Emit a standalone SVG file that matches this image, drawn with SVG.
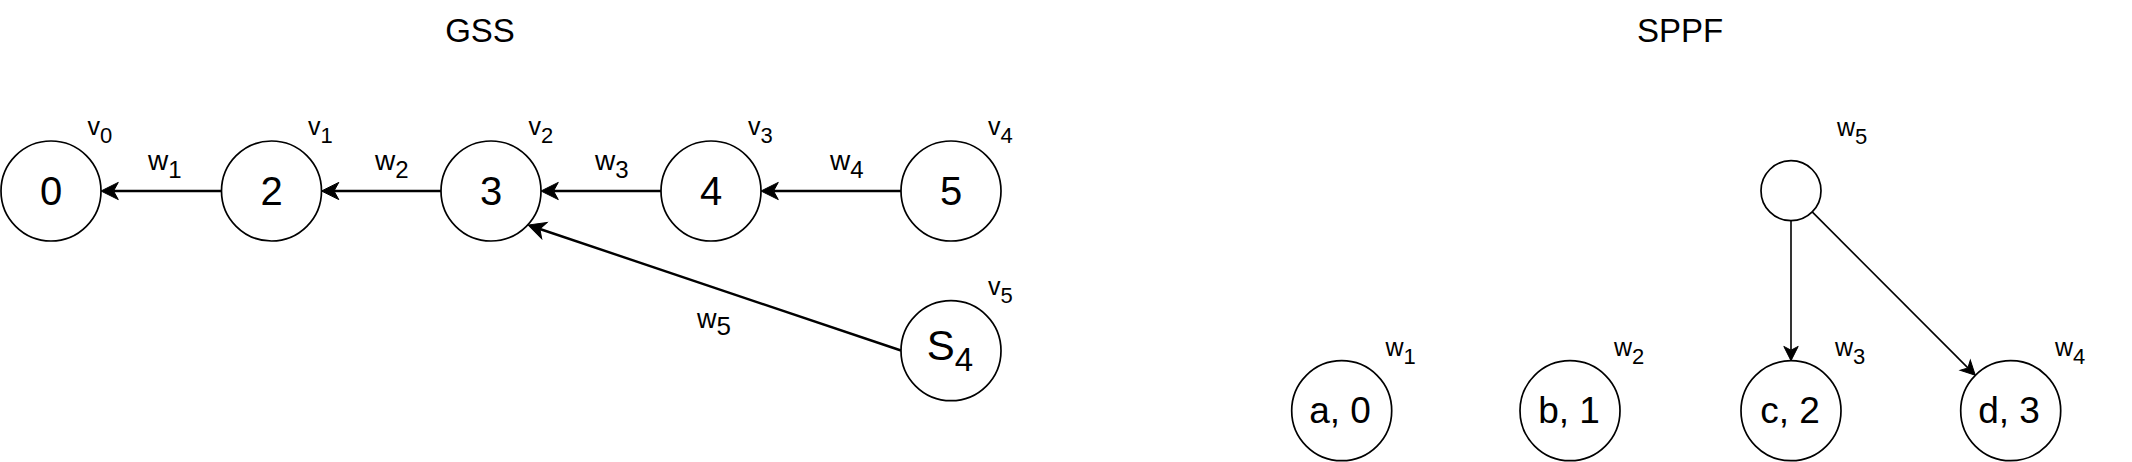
<svg xmlns="http://www.w3.org/2000/svg" width="2132" height="462" viewBox="0 0 2132 462">
<style>
text{font-family:"Liberation Sans",Arial,Helvetica,sans-serif;fill:#000}
.title{font-size:33px;text-anchor:middle}
.node{fill:#fff;stroke:#000;stroke-width:1.7}
.gnum{font-size:40px;text-anchor:middle}
.snum{font-size:37px;text-anchor:middle}
.elab{font-size:28px}
.elab .sub{font-size:24px}
.clab{font-size:25px}
.clab .sub{font-size:22px}
.gedge{stroke:#000;stroke-width:2.4;fill:none}
.sedge{stroke:#000;stroke-width:1.6;fill:none}
</style>
<defs>
<marker id="arrG" markerUnits="userSpaceOnUse" viewBox="-6 -10 20 20" refX="0" refY="0" markerWidth="20" markerHeight="20" orient="auto">
<path d="M12.5,0 L-4.8,-8.6 L0,0 L-4.8,8.6 Z" fill="#000" stroke="#000" stroke-width="1" stroke-linejoin="miter"/>
</marker>
<marker id="arrS" markerUnits="userSpaceOnUse" viewBox="-6 -10 20 20" refX="0" refY="0" markerWidth="20" markerHeight="20" orient="auto">
<path d="M10.5,0 L-3.8,-7.2 L0,0 L-3.8,7.2 Z" fill="#000" stroke="#000" stroke-width="1"/>
</marker>
</defs>
<rect width="2132" height="462" fill="#fff"/>
<text class="title" x="480" y="41.7">GSS</text>
<text class="title" x="1680" y="41.7">SPPF</text>

<g id="connectors">
<line class="gedge" x1="221.5" y1="191" x2="113.5" y2="191" marker-end="url(#arrG)"/>
<line class="gedge" x1="441" y1="191" x2="334" y2="191" marker-end="url(#arrG)"/>
<line class="gedge" x1="661" y1="191" x2="553.5" y2="191" marker-end="url(#arrG)"/>
<line class="gedge" x1="901" y1="191" x2="773.5" y2="191" marker-end="url(#arrG)"/>
<line class="gedge" x1="901" y1="350.5" x2="539.9" y2="229" marker-end="url(#arrG)"/>
<line class="sedge" x1="1791" y1="220.7" x2="1791" y2="350.2" marker-end="url(#arrS)"/>
<line class="sedge" x1="1812.2" y1="211.9" x2="1967.9" y2="367.9" marker-end="url(#arrS)"/>
<text class="elab" x="148" y="170">w<tspan class="sub" dy="8">1</tspan></text>
<text class="elab" x="375" y="170">w<tspan class="sub" dy="8">2</tspan></text>
<text class="elab" x="595" y="170">w<tspan class="sub" dy="8">3</tspan></text>
<text class="elab" x="830" y="170">w<tspan class="sub" dy="8">4</tspan></text>
<text class="elab" x="697" y="328" style="font-size:27px">w<tspan class="sub" dy="7" style="font-size:26px">5</tspan></text>
</g>

<g id="v0">
<circle class="node" cx="51" cy="191" r="50"/>
<text class="gnum" x="51" y="205">0</text>
<text class="clab" x="87.5" y="135">v<tspan class="sub" dy="8">0</tspan></text>
</g>
<g id="v1">
<circle class="node" cx="271.5" cy="191" r="50"/>
<text class="gnum" x="271.5" y="205">2</text>
<text class="clab" x="308" y="135">v<tspan class="sub" dy="8">1</tspan></text>
</g>
<g id="v2">
<circle class="node" cx="491" cy="191" r="50"/>
<text class="gnum" x="491" y="205">3</text>
<text class="clab" x="528.5" y="135">v<tspan class="sub" dy="8">2</tspan></text>
</g>
<g id="v3">
<circle class="node" cx="711" cy="191" r="50"/>
<text class="gnum" x="711" y="205">4</text>
<text class="clab" x="748" y="135">v<tspan class="sub" dy="8">3</tspan></text>
</g>
<g id="v4">
<circle class="node" cx="951" cy="191" r="50"/>
<text class="gnum" x="951" y="205">5</text>
<text class="clab" x="988" y="135">v<tspan class="sub" dy="8">4</tspan></text>
</g>
<g id="v5">
<circle class="node" cx="951" cy="350.7" r="50"/>
<text x="950" y="360" style="font-size:42px;text-anchor:middle">S<tspan dy="11" style="font-size:33px">4</tspan></text>
<text class="clab" x="988" y="295">v<tspan class="sub" dy="8">5</tspan></text>
</g>

<g id="sppf-w5">
<circle class="node" cx="1791" cy="190.7" r="30"/>
<text class="clab" x="1837" y="136">w<tspan class="sub" dy="7.5">5</tspan></text>
</g>
<g id="sppf-a0">
<circle class="node" cx="1341.7" cy="410.7" r="50"/>
<text class="snum" x="1340" y="423">a, 0</text>
<text class="clab" x="1385.5" y="356">w<tspan class="sub" dy="7.5">1</tspan></text>
</g>
<g id="sppf-b1">
<circle class="node" cx="1570" cy="410.7" r="50"/>
<text class="snum" x="1569" y="423">b, 1</text>
<text class="clab" x="1614" y="356">w<tspan class="sub" dy="7.5">2</tspan></text>
</g>
<g id="sppf-c2">
<circle class="node" cx="1791" cy="410.7" r="50"/>
<text class="snum" x="1790" y="423">c, 2</text>
<text class="clab" x="1835" y="356">w<tspan class="sub" dy="7.5">3</tspan></text>
</g>
<g id="sppf-d3">
<circle class="node" cx="2010.7" cy="410.7" r="50"/>
<text class="snum" x="2009" y="423">d, 3</text>
<text class="clab" x="2055" y="356">w<tspan class="sub" dy="7.5">4</tspan></text>
</g>
</svg>
